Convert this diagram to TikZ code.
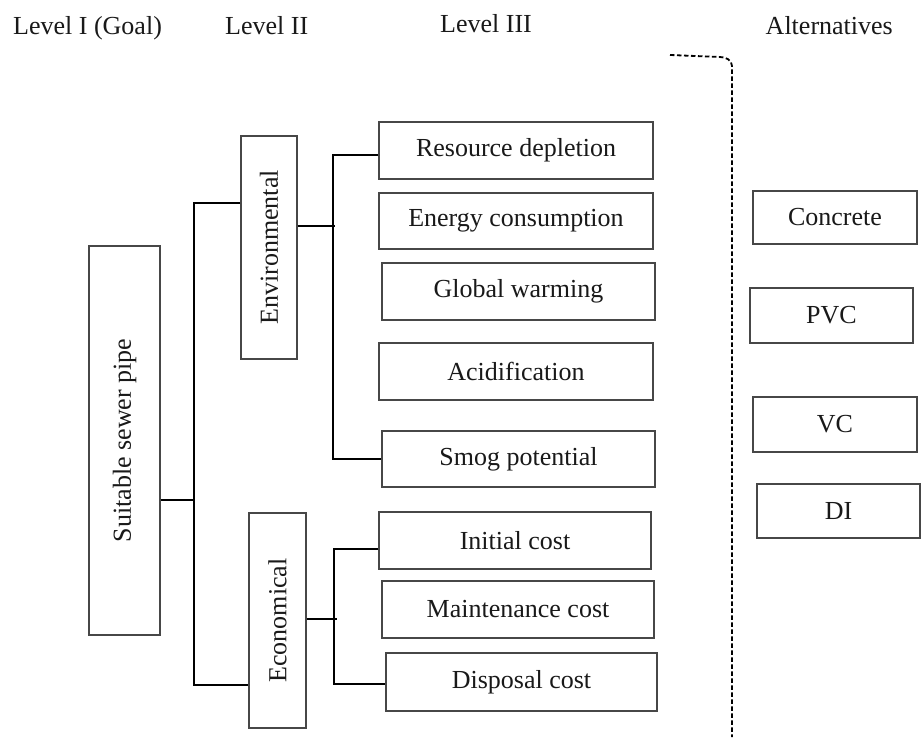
\documentclass[tikz,border=0pt]{standalone}
\usepackage{fontspec}
\setmainfont{Liberation Serif}
\begin{document}
\begin{tikzpicture}[x=1pt,y=-1pt,
  every node/.style={font=\fontsize{26}{30}\selectfont, text=black!90},
  box/.style={draw=black!72, line width=1.2pt, inner sep=0pt, rectangle},
  conn/.style={draw=black, line width=1.5pt},
  hdr/.style={inner sep=0pt}]
\useasboundingbox[fill=white] (0,0) rectangle (922,738);
% headers
\node[hdr, anchor=base west] (h1) at (13,35) {Level I (Goal)};
\node[hdr, anchor=base west] (h2) at (225,35) {Level II};
\node[hdr, anchor=base west] (h3) at (440,33) {Level III};
\node[hdr, anchor=base east] (h4) at (893,35) {Alternatives};
% goal
\node[box, minimum width=71, minimum height=389] (goal) at (124.5,440.5) {\rotatebox{90}{Suitable sewer pipe}};
% level II
\node[box, minimum width=56, minimum height=223] (env) at (269,247.5) {\rotatebox{90}{Environmental}};
\node[box, minimum width=57, minimum height=215] (econ) at (277.5,620.5) {\rotatebox{90}{Economical}};
% level III
\node[box, minimum width=274, minimum height=57] (res) at (516,150.5) {Resource depletion};
\node[box, minimum width=274, minimum height=56] (ene) at (516,221) {Energy consumption};
\node[box, minimum width=273, minimum height=57] (glo) at (518.5,291.5) {Global warming};
\node[box, minimum width=274, minimum height=57] (aci) at (516,371.5) {Acidification};
\node[box, minimum width=273, minimum height=56] (smog) at (518.5,459) {Smog potential};
\node[box, minimum width=272, minimum height=57] (ini) at (515,540.5) {Initial cost};
\node[box, minimum width=272, minimum height=57] (mai) at (518,609.5) {Maintenance cost};
\node[box, minimum width=271, minimum height=58] (dis) at (521.5,682) {Disposal cost};
% alternatives
\node[box, minimum width=164, minimum height=53] (con) at (835,217.5) {Concrete};
\node[box, minimum width=163, minimum height=55] (pvc) at (831.5,315.5) {PVC};
\node[box, minimum width=164, minimum height=55] (vc) at (835,424.5) {VC};
\node[box, minimum width=163, minimum height=54] (di) at (838.5,511) {DI};
% connector coordinates
\coordinate (gj) at (194,500);
\coordinate (g1) at (194,203);
\coordinate (g2) at (194,685);
\coordinate (et) at (335,226);
\coordinate (e1) at (333,155);
\coordinate (e2) at (333,459);
\coordinate (ct) at (337,619);
\coordinate (c1) at (334,549);
\coordinate (c2) at (334,684);
% connectors
\draw[conn] (goal.east |- gj) -- (gj);
\draw[conn] (env.west |- g1) -- (g1) -- (g2) -- (econ.west |- g2);
\draw[conn] (env.east |- et) -- (et);
\draw[conn] (res.west |- e1) -- (e1) -- (e2) -- (smog.west |- e2);
\draw[conn] (econ.east |- ct) -- (ct);
\draw[conn] (ini.west |- c1) -- (c1) -- (c2) -- (dis.west |- c2);
% dashed separator
\coordinate (d0) at (670,55);
\coordinate (d1) at (732,737);
\draw[line width=1.8pt, dash pattern=on 4.5pt off 2.5pt] (d0) -- (720,57) to[out=0,in=90] (d1 |- 0,66) -- (d1);
\end{tikzpicture}
\end{document}
